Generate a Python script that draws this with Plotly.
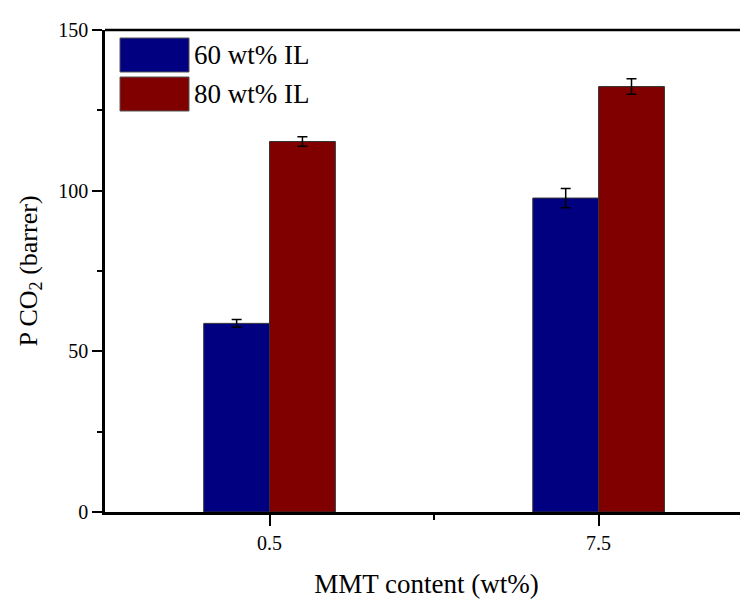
import plotly.graph_objects as go

categories = ["0.5", "7.5"]
series_names = ["60 wt% IL", "80 wt% IL"]
values_60 = [58.7, 97.7]
errors_60 = [1.2, 3.0]
values_80 = [115.3, 132.4]
errors_80 = [1.5, 2.4]
colors = ["#000080", "#800000"]
y_ticks = [0, 50, 100, 150]

FONT = "Liberation Serif"
xpos = list(range(len(categories)))

fig = go.Figure()
for name, vals, errs, col in zip(series_names, [values_60, values_80], [errors_60, errors_80], colors):
    fig.add_trace(go.Bar(
        x=xpos, y=vals, name=name,
        marker=dict(color=col, line=dict(color="#333333", width=1)),
        error_y=dict(type="data", array=errs, color="black", thickness=1.5, width=5),
        showlegend=False,
    ))

W, H = 740, 591
ML, MT, MB = 97, 22, 87
PW, PH = W - ML, H - MT - MB

fig.update_layout(
    width=W, height=H,
    margin=dict(l=ML, r=0, t=MT, b=MB),
    paper_bgcolor="white", plot_bgcolor="white",
    barmode="group", bargap=0.6, bargroupgap=0,
    font=dict(family=FONT, color="black"),
)
fig.update_xaxes(
    range=[-0.5, 1.454],
    tickvals=xpos, ticktext=categories,
    ticks="outside", ticklen=11, tickwidth=2, tickcolor="black",
    minor=dict(tickvals=[0.5], ticks="outside", ticklen=5, tickwidth=2, tickcolor="black"),
    showline=True, linewidth=2.5, linecolor="black",
    showgrid=False, zeroline=False,
    tickfont=dict(size=20, family=FONT),
    title=dict(text="MMT content (wt%)", font=dict(size=27, family=FONT), standoff=22),
)
fig.update_yaxes(
    range=[0, 150],
    tickvals=y_ticks,
    ticks="outside", ticklen=10, tickwidth=2, tickcolor="black",
    minor=dict(dtick=25, ticks="outside", ticklen=5, tickwidth=2, tickcolor="black"),
    showline=True, linewidth=2.5, linecolor="black",
    showgrid=False, zeroline=False,
    tickfont=dict(size=20, family=FONT),
    title=dict(text="P CO<sub>2</sub> (barrer)", font=dict(size=26, family=FONT), standoff=14),
)
# top border line
fig.add_shape(type="line", xref="paper", yref="paper", x0=0, x1=1, y0=1, y1=1,
              line=dict(color="black", width=2.5))

# legend drawn as swatches + labels (pixel offsets within plot area)
sw_left, sw_right = 15, 84
leg_top = 8
sw_h = 34
sw_gap = 5
for i, (name, col) in enumerate(zip(series_names, colors)):
    y0 = leg_top + i * (sw_h + sw_gap)
    fig.add_shape(type="rect", xref="paper", yref="paper",
                  x0=sw_left / PW, x1=sw_right / PW,
                  y0=1 - (y0 + sw_h) / PH, y1=1 - y0 / PH,
                  fillcolor=col, line=dict(color="#555555", width=1))
    fig.add_annotation(xref="paper", yref="paper",
                       x=(sw_right + 3) / PW, y=1 - (y0 + sw_h / 2) / PH,
                       text=name, showarrow=False, xanchor="left", yanchor="middle",
                       font=dict(size=27, family=FONT, color="black"))

fig.write_html("out.html")
